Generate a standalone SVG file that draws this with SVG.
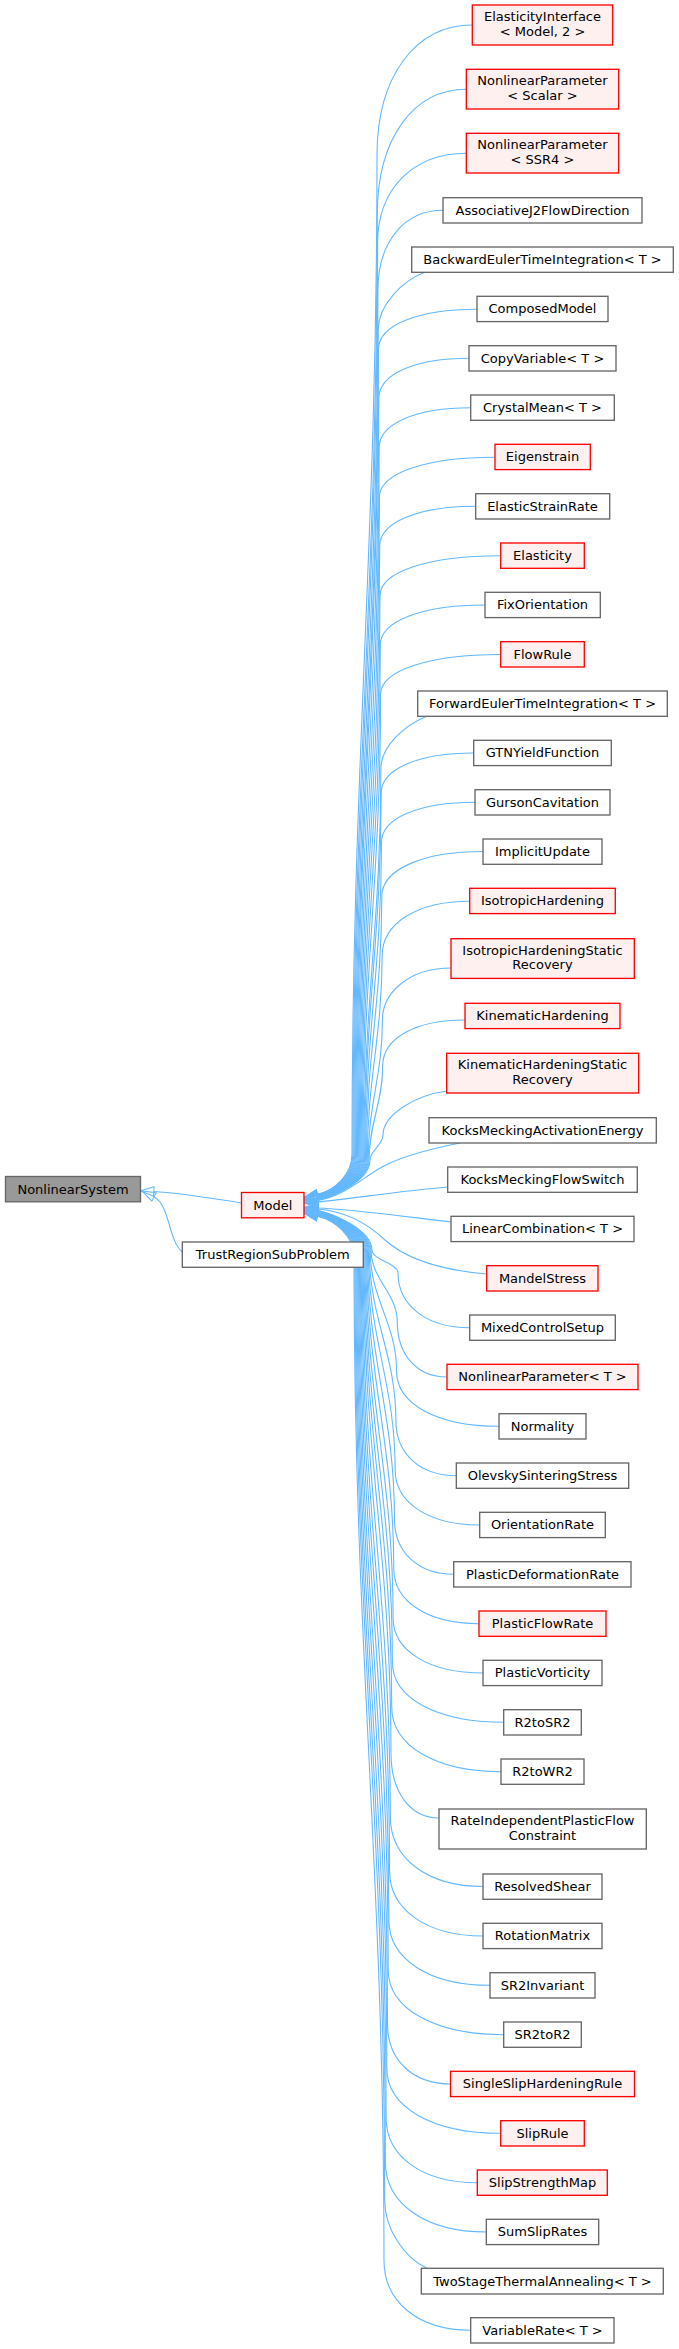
<svg xmlns="http://www.w3.org/2000/svg" width="679" height="2349" viewBox="0 0 679 2349">
<style>
.e path{fill:none;stroke:#63b8ff;stroke-width:1.1;marker-start:url(#a)}
.e path.t{marker-start:none;marker-end:url(#a)}
rect{stroke:#666666;fill:#ffffff;stroke-width:1.33}
.r rect{stroke:#ff0000;fill:#fff0f0}
.root rect{fill:#999999;stroke:#666666}
text{font-family:"DejaVu Sans","Liberation Sans",sans-serif;font-size:13px;text-anchor:middle;fill:#000000}
</style>
<defs>
<marker id="a" viewBox="-1 -1 15.3 11.34" refX="0" refY="4.67" markerWidth="15.3" markerHeight="11.34" markerUnits="userSpaceOnUse" orient="auto-start-reverse" overflow="visible"><polygon points="0,0 13.3,4.67 0,9.34" fill="none" stroke="#63b8ff" stroke-width="1.1"/></marker>
</defs>
<rect x="0" y="0" width="679" height="2349" style="fill:#ffffff;stroke:none"/>
<g id="connectors" class="e">
<path class="t" d="M241.5,1203 C215,1199 182,1193 153.8,1191.5"/>
<path class="t" d="M182.3,1252 C168,1240 170,1205 154,1197"/>
<path d="M317.3,1194.3 C335,1190.3 352,1174.3 352,1154.3 C352,754.6 377,554.7 377,155 C377,77 415.1,25 472.3,25"/>
<path d="M317.3,1194.6 C335,1190.6 352.9,1174.6 352.9,1154.6 C352.9,778.4 377.3,590.4 377.3,214.2 C377.3,139.2 412.9,89.2 466.3,89.2"/>
<path d="M317.3,1194.9 C335,1190.9 353.8,1174.9 353.8,1154.9 C353.8,790.2 377.6,607.9 377.6,243.2 C377.6,189.2 413.1,153.2 466.3,153.2"/>
<path d="M317.3,1195.2 C335,1191.2 354.7,1175.2 354.7,1155.2 C354.7,809.2 377.9,636.3 377.9,290.3 C377.9,242.3 403.9,210.3 443,210.3"/>
<path d="M317.3,1195.5 C335,1191.5 355.6,1175.5 355.6,1155.5 C355.6,825.2 378.2,660 378.2,329.7 C378.2,305 403.2,280 425,272.3"/>
<path d="M317.3,1195.8 C335,1191.8 356.5,1175.8 356.5,1155.8 C356.5,833.2 378.5,671.8 378.5,349.2 C378.5,325.2 417.9,309.2 477,309.2"/>
<path d="M317.3,1196.1 C335,1192.1 357.4,1176.1 357.4,1156.1 C357.4,853 378.8,701.4 378.8,398.3 C378.8,374.3 414.9,358.3 469,358.3"/>
<path d="M317.3,1196.4 C335,1192.4 358.3,1176.4 358.3,1156.4 C358.3,872.9 379.1,731.2 379.1,447.7 C379.1,423.7 415.7,407.7 470.7,407.7"/>
<path d="M317.3,1196.7 C335,1192.7 359.2,1176.7 359.2,1156.7 C359.2,892.9 379.4,761 379.4,497.2 C379.4,473.2 425.6,457.2 495,457.2"/>
<path d="M317.3,1197 C335,1193 360.1,1177 360.1,1157 C360.1,912.7 379.7,790.6 379.7,546.3 C379.7,522.3 418.1,506.3 475.7,506.3"/>
<path d="M317.3,1197.3 C335,1193.3 361,1177.3 361,1157.3 C361,932.7 380,820.3 380,595.7 C380,571.7 428.3,555.7 500.7,555.7"/>
<path d="M317.3,1197.6 C335,1193.6 361.9,1177.6 361.9,1157.6 C361.9,952.6 380.3,850 380.3,645 C380.3,621 422.2,605 485,605"/>
<path d="M317.3,1197.9 C335,1193.9 362.8,1177.9 362.8,1157.9 C362.8,972.5 380.6,879.9 380.6,694.5 C380.6,670.5 428.6,654.5 500.7,654.5"/>
<path d="M317.3,1198.2 C335,1194.2 363.7,1178.2 363.7,1158.2 C363.7,1002.4 380.9,924.5 380.9,768.7 C380.9,745 405.9,725 426.7,716.3"/>
<path d="M317.3,1198.5 C335,1194.5 364.6,1178.5 364.6,1158.5 C364.6,1012.3 381.2,939.2 381.2,793 C381.2,769 418.2,753 473.7,753"/>
<path d="M317.3,1198.8 C335,1194.8 365.5,1178.8 365.5,1158.8 C365.5,1032.2 381.5,968.9 381.5,842.3 C381.5,818.3 418.9,802.3 475,802.3"/>
<path d="M317.3,1199.1 C335,1195.1 366.4,1179.1 366.4,1159.1 C366.4,1054.1 381.8,1001.5 381.8,896.5 C381.8,869.5 422.3,851.5 483,851.5"/>
<path d="M317.3,1199.4 C335,1195.4 367.3,1179.4 367.3,1159.4 C367.3,1078.1 382.1,1037.5 382.1,956.2 C382.1,923.2 417.1,901.2 469.7,901.2"/>
<path d="M317.3,1199.7 C335,1195.7 368.2,1179.7 368.2,1159.7 C368.2,1103.8 382.4,1075.9 382.4,1020 C382.4,992 409.8,968 451,968"/>
<path d="M317.3,1200 C335,1196 369.1,1180 369.1,1160 C369.1,1122.4 382.7,1103.6 382.7,1066 C382.7,1038 415.6,1020 465,1020"/>
<path d="M317.3,1200.3 C335,1196.3 370,1180.3 370,1160.3 C370,1150.2 383,1145.1 383,1135 C383,1115 415,1095 447.5,1091"/>
<path d="M317.3,1200.6 C345,1196 362,1178 382,1167 C402,1156 435,1148 460,1143"/>
<path d="M317.3,1202 C350,1199 400,1191 447.7,1187"/>
<path d="M317.3,1208 C350,1209 400,1216 451,1222"/>
<path d="M317.3,1209 C345,1211 368,1224 385,1240 C405,1258 440,1270 486.7,1274"/>
<path d="M317.3,1210.3 C335,1214.3 372,1230.3 372,1250.3 C372,1259.3 398,1263.8 398,1272.8 C398,1305.8 426.7,1327.8 469.7,1327.8"/>
<path d="M317.3,1210.6 C335,1214.6 371.1,1230.6 371.1,1250.6 C371.1,1279.2 397.3,1293.4 397.3,1322 C397.3,1355 417.2,1377 447,1377"/>
<path d="M317.3,1210.9 C335,1214.9 370.2,1230.9 370.2,1250.9 C370.2,1299.1 396.6,1323.1 396.6,1371.3 C396.6,1404.3 437.6,1426.3 499,1426.3"/>
<path d="M317.3,1211.2 C335,1215.2 369.3,1231.2 369.3,1251.2 C369.3,1319 395.9,1353 395.9,1420.8 C395.9,1453.8 420.1,1475.8 456.3,1475.8"/>
<path d="M317.3,1211.5 C335,1215.5 368.4,1231.5 368.4,1251.5 C368.4,1338.9 395.2,1382.6 395.2,1470 C395.2,1503 429,1525 479.7,1525"/>
<path d="M317.3,1211.8 C335,1215.8 367.5,1231.8 367.5,1251.8 C367.5,1358.8 394.5,1412.3 394.5,1519.3 C394.5,1552.3 418.2,1574.3 453.7,1574.3"/>
<path d="M317.3,1212.1 C335,1216.1 366.6,1232.1 366.6,1252.1 C366.6,1378.7 393.8,1442.1 393.8,1568.7 C393.8,1601.7 427.9,1623.7 479,1623.7"/>
<path d="M317.3,1212.4 C335,1216.4 365.7,1232.4 365.7,1252.4 C365.7,1398.6 393.1,1471.8 393.1,1618 C393.1,1651 429.1,1673 483,1673"/>
<path d="M317.3,1212.7 C335,1216.7 364.8,1232.7 364.8,1252.7 C364.8,1416.5 392.4,1498.5 392.4,1662.3 C392.4,1698.3 436.9,1722.3 503.7,1722.3"/>
<path d="M317.3,1213 C335,1217 363.9,1233 363.9,1253 C363.9,1434.5 391.7,1525.2 391.7,1706.7 C391.7,1745.7 435.4,1771.7 501,1771.7"/>
<path d="M317.3,1213.3 C335,1217.3 363,1233.3 363,1253.3 C363,1453.2 391,1553.1 391,1753 C391,1792 410,1818 439,1818"/>
<path d="M317.3,1213.6 C335,1217.6 362.1,1233.6 362.1,1253.6 C362.1,1478.8 390.3,1591.3 390.3,1816.5 C390.3,1858.5 427.4,1886.5 483,1886.5"/>
<path d="M317.3,1213.9 C335,1217.9 361.2,1233.9 361.2,1253.9 C361.2,1500.7 389.6,1624.2 389.6,1871 C389.6,1910 427,1936 483,1936"/>
<path d="M317.3,1214.2 C335,1218.2 360.3,1234.2 360.3,1254.2 C360.3,1520.6 388.9,1653.9 388.9,1920.3 C388.9,1959.3 429.3,1985.3 490,1985.3"/>
<path d="M317.3,1214.5 C335,1218.5 359.4,1234.5 359.4,1254.5 C359.4,1540.6 388.2,1683.6 388.2,1969.7 C388.2,2008.7 434.4,2034.7 503.7,2034.7"/>
<path d="M317.3,1214.8 C335,1218.8 358.5,1234.8 358.5,1254.8 C358.5,1562.5 387.5,1716.3 387.5,2024 C387.5,2060 412.7,2084 450.5,2084"/>
<path d="M317.3,1215.1 C335,1219.1 357.6,1235.1 357.6,1255.1 C357.6,1580.4 386.8,1743 386.8,2068.3 C386.8,2107.3 432.4,2133.3 500.7,2133.3"/>
<path d="M317.3,1215.4 C335,1219.4 356.7,1235.4 356.7,1255.4 C356.7,1600.3 386.1,1772.8 386.1,2117.7 C386.1,2156.7 422.6,2182.7 477.3,2182.7"/>
<path d="M317.3,1215.7 C335,1219.7 355.8,1235.7 355.8,1255.7 C355.8,1618.2 385.4,1799.5 385.4,2162 C385.4,2204 425.8,2232 486.3,2232"/>
<path d="M317.3,1216 C335,1220 354.9,1236 354.9,1256 C354.9,1633.6 384.7,1822.4 384.7,2200 C384.7,2230 405,2258 427,2268.3"/>
<path d="M317.3,1216.3 C335,1220.3 354,1236.3 354,1256.3 C354,1657.9 384,1858.7 384,2260.3 C384,2302.3 418.7,2330.3 470.7,2330.3"/>
</g>
<g id="NonlinearSystem" class="root"><rect x="5.5" y="1176.5" width="135" height="25.3"/><text x="73" y="1193.5">NonlinearSystem</text></g>
<g id="Model" class="r"><rect x="241.5" y="1192.5" width="62.5" height="25.3"/><text x="272.8" y="1209.5">Model</text></g>
<g id="TrustRegionSubProblem"><rect x="182.3" y="1242" width="181" height="25.3"/><text x="272.8" y="1259">TrustRegionSubProblem</text></g>
<g id="ElasticityInterface" class="r"><rect x="472.3" y="5" width="140.4" height="40"/><text x="542.5" y="21">ElasticityInterface</text><text x="542.5" y="35.5">&lt; Model, 2 &gt;</text></g>
<g id="NonlinearParameterScalar" class="r"><rect x="466.3" y="69.3" width="152.4" height="39.7"/><text x="542.5" y="85.3">NonlinearParameter</text><text x="542.5" y="99.8">&lt; Scalar &gt;</text></g>
<g id="NonlinearParameterSSR4" class="r"><rect x="466.3" y="133.3" width="152.4" height="39.7"/><text x="542.5" y="149.3">NonlinearParameter</text><text x="542.5" y="163.8">&lt; SSR4 &gt;</text></g>
<g id="AssociativeJ2FlowDirection"><rect x="443" y="197.7" width="199" height="25.3"/><text x="542.5" y="214.7">AssociativeJ2FlowDirection</text></g>
<g id="BackwardEulerTimeIntegration"><rect x="411.7" y="247" width="261.6" height="25.3"/><text x="542.5" y="264">BackwardEulerTimeIntegration&lt; T &gt;</text></g>
<g id="ComposedModel"><rect x="477" y="296.3" width="131" height="25.3"/><text x="542.5" y="313.3">ComposedModel</text></g>
<g id="CopyVariable"><rect x="469" y="345.7" width="147" height="25.3"/><text x="542.5" y="362.7">CopyVariable&lt; T &gt;</text></g>
<g id="CrystalMean"><rect x="470.7" y="395" width="143.6" height="25.3"/><text x="542.5" y="412">CrystalMean&lt; T &gt;</text></g>
<g id="Eigenstrain" class="r"><rect x="495" y="444.3" width="95.3" height="25.3"/><text x="542.5" y="461.3">Eigenstrain</text></g>
<g id="ElasticStrainRate"><rect x="475.7" y="493.7" width="134" height="25.3"/><text x="542.5" y="510.7">ElasticStrainRate</text></g>
<g id="Elasticity" class="r"><rect x="500.7" y="543" width="83.6" height="25.3"/><text x="542.5" y="560">Elasticity</text></g>
<g id="FixOrientation"><rect x="485" y="592.3" width="115.3" height="25.3"/><text x="542.5" y="609.3">FixOrientation</text></g>
<g id="FlowRule" class="r"><rect x="500.7" y="641.7" width="83.6" height="25.3"/><text x="542.5" y="658.7">FlowRule</text></g>
<g id="ForwardEulerTimeIntegration"><rect x="417.7" y="691" width="249.6" height="25.3"/><text x="542.5" y="708">ForwardEulerTimeIntegration&lt; T &gt;</text></g>
<g id="GTNYieldFunction"><rect x="473.7" y="740.3" width="137.6" height="25.3"/><text x="542.5" y="757.3">GTNYieldFunction</text></g>
<g id="GursonCavitation"><rect x="475" y="789.7" width="135" height="25.3"/><text x="542.5" y="806.7">GursonCavitation</text></g>
<g id="ImplicitUpdate"><rect x="483" y="839" width="119" height="25.3"/><text x="542.5" y="856">ImplicitUpdate</text></g>
<g id="IsotropicHardening" class="r"><rect x="469.7" y="888.3" width="145.6" height="25.3"/><text x="542.5" y="905.3">IsotropicHardening</text></g>
<g id="IsotropicHardeningStaticRecovery" class="r"><rect x="451" y="938.7" width="183.3" height="39.7"/><text x="542.5" y="954.7">IsotropicHardeningStatic</text><text x="542.5" y="969.2">Recovery</text></g>
<g id="KinematicHardening" class="r"><rect x="465" y="1003.3" width="155" height="25.3"/><text x="542.5" y="1020.3">KinematicHardening</text></g>
<g id="KinematicHardeningStaticRecovery" class="r"><rect x="446.7" y="1053.3" width="192" height="39.7"/><text x="542.5" y="1069.3">KinematicHardeningStatic</text><text x="542.5" y="1083.8">Recovery</text></g>
<g id="KocksMeckingActivationEnergy"><rect x="429" y="1117.7" width="227.3" height="25.3"/><text x="542.5" y="1134.7">KocksMeckingActivationEnergy</text></g>
<g id="KocksMeckingFlowSwitch"><rect x="447.7" y="1167" width="189.6" height="25.3"/><text x="542.5" y="1184">KocksMeckingFlowSwitch</text></g>
<g id="LinearCombination"><rect x="451" y="1216.3" width="183" height="25.3"/><text x="542.5" y="1233.3">LinearCombination&lt; T &gt;</text></g>
<g id="MandelStress" class="r"><rect x="486.7" y="1265.7" width="111.3" height="25.3"/><text x="542.5" y="1282.7">MandelStress</text></g>
<g id="MixedControlSetup"><rect x="469.7" y="1315" width="145.6" height="25.3"/><text x="542.5" y="1332">MixedControlSetup</text></g>
<g id="NonlinearParameterT" class="r"><rect x="447" y="1364.3" width="191" height="25.3"/><text x="542.5" y="1381.3">NonlinearParameter&lt; T &gt;</text></g>
<g id="Normality"><rect x="499" y="1413.7" width="87" height="25.3"/><text x="542.5" y="1430.7">Normality</text></g>
<g id="OlevskySinteringStress"><rect x="456.3" y="1463" width="172.4" height="25.3"/><text x="542.5" y="1480">OlevskySinteringStress</text></g>
<g id="OrientationRate"><rect x="479.7" y="1512.3" width="125.6" height="25.3"/><text x="542.5" y="1529.3">OrientationRate</text></g>
<g id="PlasticDeformationRate"><rect x="453.7" y="1561.7" width="177.3" height="25.3"/><text x="542.5" y="1578.7">PlasticDeformationRate</text></g>
<g id="PlasticFlowRate" class="r"><rect x="479" y="1611" width="127" height="25.3"/><text x="542.5" y="1628">PlasticFlowRate</text></g>
<g id="PlasticVorticity"><rect x="483" y="1660.3" width="119" height="25.3"/><text x="542.5" y="1677.3">PlasticVorticity</text></g>
<g id="R2toSR2"><rect x="503.7" y="1709.7" width="77.6" height="25.3"/><text x="542.5" y="1726.7">R2toSR2</text></g>
<g id="R2toWR2"><rect x="501" y="1759" width="83" height="25.3"/><text x="542.5" y="1776">R2toWR2</text></g>
<g id="RateIndependentPlasticFlowConstraint"><rect x="439" y="1809" width="207.3" height="40"/><text x="542.5" y="1825">RateIndependentPlasticFlow</text><text x="542.5" y="1839.5">Constraint</text></g>
<g id="ResolvedShear"><rect x="483" y="1874" width="119" height="25.3"/><text x="542.5" y="1891">ResolvedShear</text></g>
<g id="RotationMatrix"><rect x="483" y="1923.3" width="119" height="25.3"/><text x="542.5" y="1940.3">RotationMatrix</text></g>
<g id="SR2Invariant"><rect x="490" y="1972.7" width="105" height="25.3"/><text x="542.5" y="1989.7">SR2Invariant</text></g>
<g id="SR2toR2"><rect x="503.7" y="2022" width="77.6" height="25.3"/><text x="542.5" y="2039">SR2toR2</text></g>
<g id="SingleSlipHardeningRule" class="r"><rect x="450.5" y="2071.3" width="184" height="25.3"/><text x="542.5" y="2088.3">SingleSlipHardeningRule</text></g>
<g id="SlipRule" class="r"><rect x="500.7" y="2120.7" width="83.6" height="25.3"/><text x="542.5" y="2137.7">SlipRule</text></g>
<g id="SlipStrengthMap" class="r"><rect x="477.3" y="2170" width="130" height="25.3"/><text x="542.5" y="2187">SlipStrengthMap</text></g>
<g id="SumSlipRates"><rect x="486.3" y="2219.3" width="112.4" height="25.3"/><text x="542.5" y="2236.3">SumSlipRates</text></g>
<g id="TwoStageThermalAnnealing"><rect x="421.3" y="2268.3" width="242" height="25.7"/><text x="542.5" y="2285.5">TwoStageThermalAnnealing&lt; T &gt;</text></g>
<g id="VariableRate"><rect x="470.7" y="2317.7" width="143.3" height="25.3"/><text x="542.5" y="2334.7">VariableRate&lt; T &gt;</text></g>
</svg>
